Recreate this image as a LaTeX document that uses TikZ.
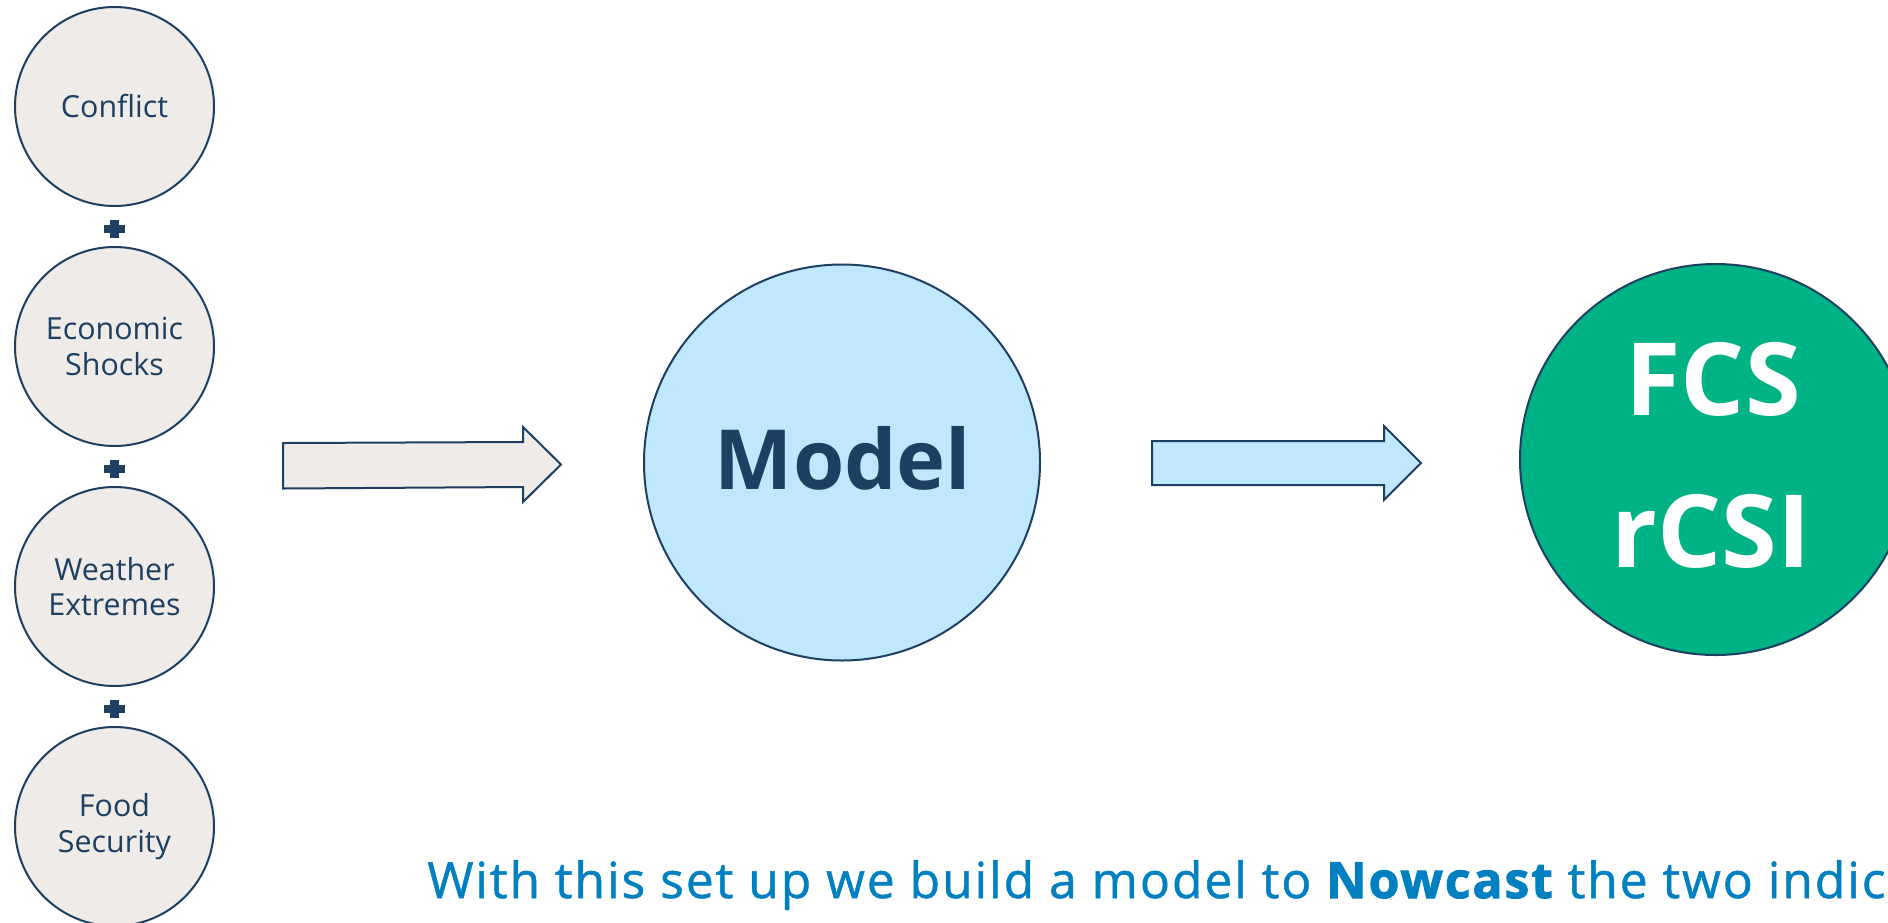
\documentclass[tikz,border=0pt]{standalone}
\usepackage{fontspec}
\setmainfont{Open Sans}
\newfontfamily\capfont[LetterSpace=3.9,FakeBold=1.0,BoldFeatures={FakeBold=2.0,LetterSpace=3.9}]{Open Sans}
\definecolor{navy}{HTML}{1C3F62}
\definecolor{beige}{HTML}{EFEBE8}
\definecolor{lblue}{HTML}{BFE7FD}
\definecolor{green}{HTML}{00B386}
\definecolor{tblue}{HTML}{0080C0}
\tikzset{
  factor/.style={circle, draw=navy, fill=beige, line width=1pt, minimum size=99.5pt, inner sep=0pt,
    text=navy, align=center, font=\fontsize{15.2}{17.9}\selectfont},
  bigcirc/.style={circle, draw=navy, line width=1pt, minimum size=198pt, inner sep=0pt},
  plussign/.style={draw=navy, line width=4.2pt},
  blockarrow/.style={draw=navy, line width=1pt, line join=miter},
}
\begin{document}
\begin{tikzpicture}[x=0.5pt,y=-0.5pt]
\useasboundingbox (0,0) rectangle (1888,922);
\clip (0,0) rectangle (1888,922);
% left factor circles
\node[factor] (c1) at (114.5,106.5) {Conflict};
\node[factor] (c2) at (114.5,346.5) {Economic\\Shocks};
\node[factor] (c3) at (114.5,586.5) {Weather\\Extremes};
\node[factor] (c4) at (114.5,826.5) {Food\\Security};
% plus signs
\coordinate (p1) at (114.5,229);
\coordinate (p2) at (114.5,469);
\coordinate (p3) at (114.5,709);
\foreach \p in {p1,p2,p3}{
  \draw[plussign] (\p) ++(-10.5,0) -- ++(21,0);
  \draw[plussign] (\p) ++(0,-9) -- ++(0,18);
}
% arrows
\draw[blockarrow, fill=beige] (283,443) -- (523,442) -- (523,427) -- (561,464.5) -- (523,502) -- (523,487) -- (283,488.5) -- cycle;
\draw[blockarrow, fill=lblue] (1152,441) -- (1384,441) -- (1384,426) -- (1421,463) -- (1384,500) -- (1384,485) -- (1152,485) -- cycle;
% model
\node[bigcirc, fill=lblue] (model) at (842,462.5) {};
\node[anchor=base, text=navy, font=\fontsize{41.5}{50}\selectfont\bfseries] (modeltxt) at (843,489) {Model};
% outputs
\node[bigcirc, fill=green, minimum size=195.5pt] (out) at (1715.5,459.5) {};
\node[anchor=base, text=white, font=\fontsize{50.5}{60}\selectfont\bfseries] (fcs) at (1713,415.7) {FCS};
\node[anchor=base, text=white, font=\fontsize{50.5}{60}\selectfont\bfseries] (rcsi) at (1711,567) {rCSI};
% caption
\node[anchor=base west, inner sep=0pt, text=tblue, font=\fontsize{24.9}{30}\selectfont\capfont] (caption) at (427,898)
  {With this set up we build a model to {\bfseries Nowcast} the two indic};
\end{tikzpicture}
\end{document}
